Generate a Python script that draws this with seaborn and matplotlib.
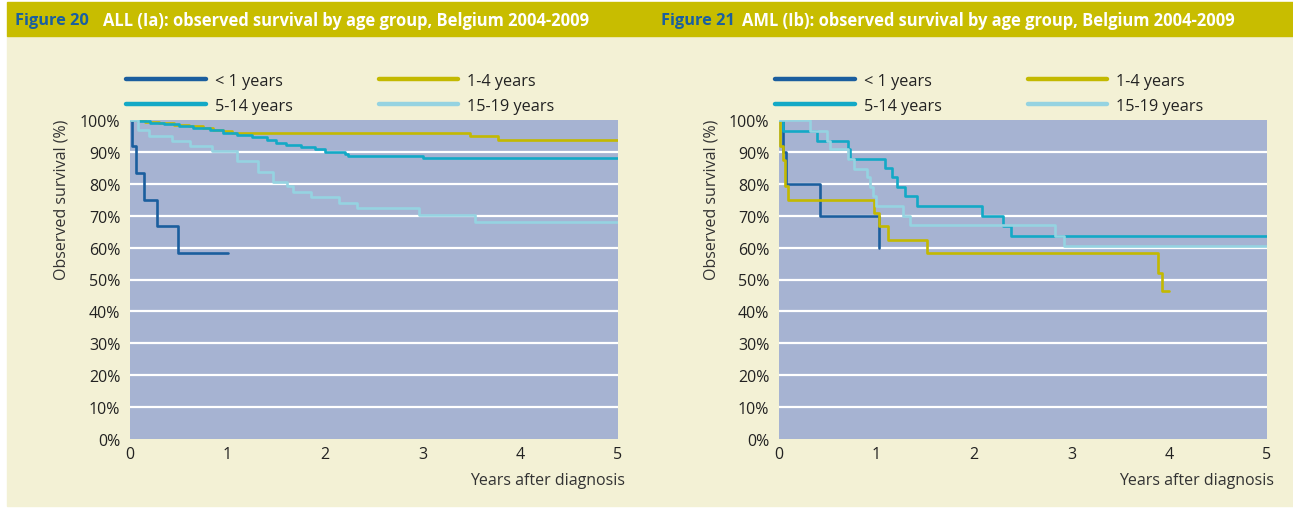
import pandas as pd
import numpy as np
import matplotlib.pyplot as plt
import seaborn as sns
from matplotlib.patches import Rectangle
from matplotlib.lines import Line2D

# Kaplan-Meier steps (years after diagnosis, survival %)
groups = ["< 1 years", "1-4 years", "5-14 years", "15-19 years"]

# Figure 20 - ALL
all_lt1_t = [0, 0.02, 0.06, 0.14, 0.28, 0.49, 1.0]
all_lt1_s = [100, 91.7, 83.3, 75.0, 66.7, 58.3, 58.3]
all_1_4_t = [0, 0.15, 0.3, 0.45, 0.6, 0.75, 0.85, 0.95, 1.05, 3.48, 3.77, 5.0]
all_1_4_s = [100, 99.5, 99.0, 98.5, 98.0, 97.5, 97.0, 96.5, 95.9, 94.9, 93.6, 93.6]
all_5_14_t = [0, 0.08, 0.2, 0.35, 0.5, 0.65, 0.82, 0.95, 1.1, 1.25, 1.4, 1.5, 1.6, 1.75, 1.9, 2.0, 2.2, 2.23, 3.0, 5.0]
all_5_14_s = [100, 99.7, 99.2, 98.7, 98.2, 97.6, 96.8, 95.8, 95.2, 94.6, 93.6, 92.9, 92.2, 91.4, 90.9, 89.9, 89.3, 88.6, 88.2, 88.2]
all_15_19_t = [0, 0.086, 0.19, 0.43, 0.61, 0.84, 1.10, 1.31, 1.47, 1.61, 1.67, 1.85, 2.14, 2.33, 2.96, 3.53, 5.0]
all_15_19_s = [100, 96.9, 95.1, 93.5, 91.7, 90.4, 87.2, 83.6, 80.5, 79.4, 77.3, 75.8, 74.0, 72.3, 70.2, 67.9, 67.9]

# Figure 21 - AML
aml_lt1_t = [0, 0.04, 0.07, 0.42, 1.02]
aml_lt1_s = [100, 90, 80, 70, 60]
aml_1_4_t = [0, 0.01, 0.045, 0.06, 0.095, 0.97, 1.02, 1.12, 1.52, 3.88, 3.92, 4.0]
aml_1_4_s = [100, 91.7, 87.5, 79.2, 75.0, 70.8, 66.7, 62.5, 58.3, 52.0, 46.5, 46.5]
aml_5_14_t = [0, 0.045, 0.39, 0.71, 0.73, 1.09, 1.16, 1.21, 1.29, 1.41, 2.08, 2.30, 2.38, 5.0]
aml_5_14_s = [100, 96.7, 93.3, 90.9, 87.8, 84.9, 82.0, 78.9, 76.1, 73.1, 70.0, 66.7, 63.7, 63.7]
aml_15_19_t = [0, 0.32, 0.49, 0.52, 0.71, 0.77, 0.90, 0.93, 0.96, 0.99, 1.27, 1.34, 2.83, 2.92, 5.0]
aml_15_19_s = [100, 96.7, 93.5, 90.9, 87.8, 84.6, 82.0, 78.9, 76.1, 73.1, 70.0, 67.2, 63.7, 60.4, 60.4]

colors = {"< 1 years": "#1b5e9e", "1-4 years": "#c3b900",
          "5-14 years": "#13a9c6", "15-19 years": "#95d3e1"}

def make_df(series):
    rows = []
    for g, (t, s) in zip(groups, series):
        for ti, si in zip(t, s):
            rows.append({"Years": ti, "Survival": si, "Group": g})
    return pd.DataFrame(rows)

df_all = make_df([(all_lt1_t, all_lt1_s), (all_1_4_t, all_1_4_s),
                  (all_5_14_t, all_5_14_s), (all_15_19_t, all_15_19_s)])
df_aml = make_df([(aml_lt1_t, aml_lt1_s), (aml_1_4_t, aml_1_4_s),
                  (aml_5_14_t, aml_5_14_s), (aml_15_19_t, aml_15_19_s)])

sns.set_style("white")
plt.rcParams["font.family"] = ["Open Sans", "DejaVu Sans"]

W, H = 1293, 510
fig = plt.figure(figsize=(W / 100, H / 100), dpi=100)

# page background: cream panel + olive header bar
fig.patches.append(Rectangle((7 / W, 3 / H), 1 - 7 / W, (507 - 37) / H,
                             transform=fig.transFigure, color="#f3f1d5", zorder=-2))
fig.patches.append(Rectangle((7 / W, (510 - 37) / H), 1 - 7 / W, 34 / H,
                             transform=fig.transFigure, color="#c8bd00", zorder=-1))

titles = [("Figure 20", "ALL (Ia): observed survival by age group, Belgium 2004-2009", 15, 103),
          ("Figure 21", "AML (Ib): observed survival by age group, Belgium 2004-2009", 661, 742)]
for fig_no, txt, x1, x2 in titles:
    fig.text(x1 / W, 1 - 21 / H, fig_no, color="#1a5fa0", fontsize=11.8,
             fontweight="bold", va="center", ha="left")
    fig.text(x2 / W, 1 - 21 / H, txt, color="white", fontsize=11.9,
             fontweight="bold", va="center", ha="left")

# legend order: row 1 = <1, 1-4 ; row 2 = 5-14, 15-19 (matplotlib fills by column)
leg_order = ["< 1 years", "5-14 years", "1-4 years", "15-19 years"]

panels = [(df_all, 130), (df_aml, 779)]
for df, left in panels:
    ax = fig.add_axes([left / W, 70 / H, 488 / W, 319 / H])
    ax.set_facecolor("#a6b3d2")
    sns.lineplot(data=df, x="Years", y="Survival", hue="Group", palette=colors,
                 estimator=None, sort=False, drawstyle="steps-post",
                 linewidth=1.9, legend=False, ax=ax)
    ax.set_xlim(0, 5)
    ax.set_ylim(0, 100)
    ax.set_xticks(range(6))
    ax.set_yticks(range(0, 101, 10))
    ax.set_yticklabels([f"{v}%" for v in range(0, 101, 10)])
    for v in range(10, 100, 10):
        ax.axhline(v, color="white", linewidth=1.6, zorder=0.5)
    for sp in ax.spines.values():
        sp.set_visible(False)
    ax.tick_params(length=0, labelsize=11.5, labelcolor="#222222")
    ax.tick_params(axis="y", pad=7)
    ax.tick_params(axis="x", pad=5)
    ax.set_xlabel("")
    ax.set_ylabel("")
    ax.text(1.015, -0.13, "Years after diagnosis", transform=ax.transAxes,
            ha="right", va="center", fontsize=11.5, color="#333333")
    fig.text((left - 68) / W, 1 - 200 / H, "Observed survival (%)", rotation=90,
             ha="center", va="center", fontsize=11.5, color="#333333")

    handles = [Line2D([], [], color=colors[g], linewidth=3.2, solid_capstyle="round")
               for g in leg_order]
    leg = ax.legend(handles, leg_order, ncol=2, frameon=False, loc="lower left",
                    bbox_to_anchor=(-0.008, 1.02), fontsize=11.7, handlelength=4.9,
                    handletextpad=0.55, columnspacing=5.3, labelspacing=0.55,
                    borderpad=0, borderaxespad=0)
    for t in leg.get_texts():
        t.set_color("#222222")

fig.savefig("out.png", dpi=100)
